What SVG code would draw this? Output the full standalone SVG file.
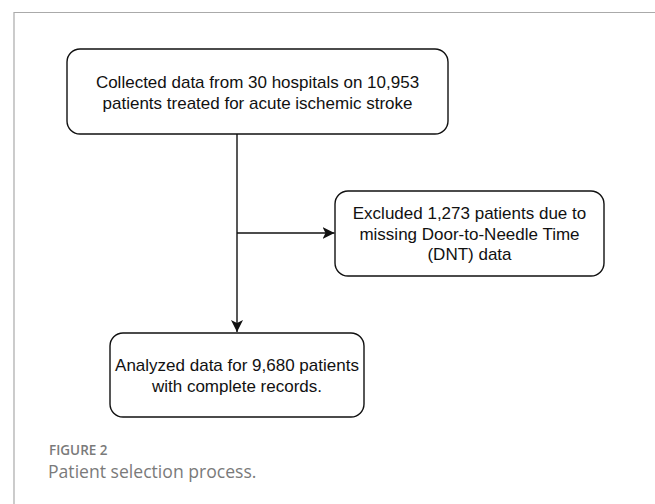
<svg xmlns="http://www.w3.org/2000/svg" width="655" height="504" viewBox="0 0 655 504">
<style>
.box{fill:#ffffff;stroke:#111111;stroke-width:1.4}
.t{font-family:"Liberation Sans",Arial,sans-serif;font-size:17px;fill:#111111;text-anchor:middle}
.edge{fill:none;stroke:#111111;stroke-width:1.4}
.frame{fill:none;stroke:#aaaaaa;stroke-width:1.2}
.cap1{font-family:"Open Sans",sans-serif;font-size:13.5px;font-weight:600;fill:#7a7a7a}
.cap2{font-family:"Open Sans",sans-serif;font-size:17.6px;fill:#7a7a7a}
</style>
<defs>
<marker id="arr" viewBox="0 0 12 12" refX="12" refY="6" markerWidth="12" markerHeight="12" markerUnits="userSpaceOnUse" orient="auto">
<path d="M0,0 L12,6 L0,12 L3,6 Z" fill="#111111"/>
</marker>
</defs>
<rect width="655" height="504" fill="#ffffff"/>
<path class="frame" d="M14,504 V12.5 H655"/>
<g id="connectors">
<path class="edge" d="M237,134 V332" marker-end="url(#arr)"/>
<path class="edge" d="M237,233 H334.5" marker-end="url(#arr)"/>
</g>
<g id="collected">
<rect class="box" x="67" y="49" width="381" height="85" rx="13"/>
<text class="t" x="257.5" y="88">Collected data from 30 hospitals on 10,953</text>
<text class="t" x="257.5" y="109">patients treated for acute ischemic stroke</text>
</g>
<g id="excluded">
<rect class="box" x="335" y="191" width="269" height="85" rx="13"/>
<text class="t" x="469.5" y="219">Excluded 1,273 patients due to</text>
<text class="t" x="469.5" y="240">missing Door-to-Needle Time</text>
<text class="t" x="469.5" y="260">(DNT) data</text>
</g>
<g id="analyzed">
<rect class="box" x="110" y="333" width="254" height="84" rx="13"/>
<text class="t" x="237" y="371">Analyzed data for 9,680 patients</text>
<text class="t" x="237" y="392">with complete records.</text>
</g>
<text class="cap1" x="49" y="455">FIGURE 2</text>
<text class="cap2" x="48" y="478">Patient selection process.</text>
</svg>
